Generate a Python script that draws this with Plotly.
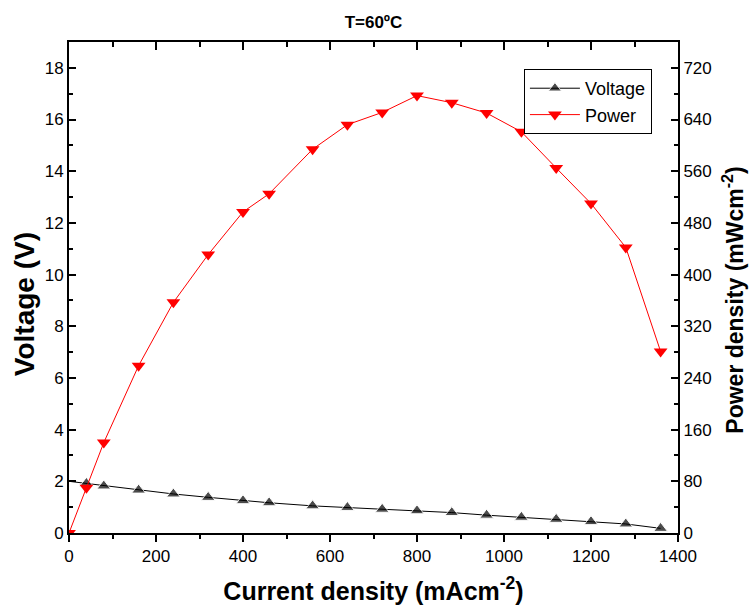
import plotly.graph_objects as go

# Current density (mA cm^-2)
current = [0, 40, 80, 160, 240, 320, 400, 460, 560, 640, 720, 800, 880, 960, 1040, 1120, 1200, 1280, 1360]
# Cell voltage (V)
voltage = [2.0, 1.92, 1.82, 1.66, 1.51, 1.38, 1.25, 1.17, 1.05, 0.99, 0.92, 0.86, 0.79, 0.69, 0.61, 0.53, 0.44, 0.35, 0.18]
# Power density (mW cm^-2)
power = [0, 70, 140, 259, 357, 431, 497, 525, 594, 632, 651, 677, 666, 650, 621, 565, 510, 442, 281]

FONT = "Liberation Sans, Arial, sans-serif"
MARKER = 12

# first voltage point drawn as line only
v_sizes = [0] + [MARKER] * (len(current) - 1)

fig = go.Figure()
fig.add_trace(go.Scatter(
    x=current, y=voltage, name="Voltage", mode="lines+markers",
    line=dict(color="black", width=1),
    marker=dict(symbol="triangle-up", size=v_sizes, color="black"),
    xaxis="x", yaxis="y",
))
fig.add_trace(go.Scatter(
    x=current, y=power, name="Power", mode="lines+markers",
    line=dict(color="#ff0000", width=1),
    marker=dict(symbol="triangle-down", size=MARKER, color="#ff0000"),
    xaxis="x", yaxis="y2",
))
# carrier for the top frame axis
fig.add_trace(go.Scatter(x=[None], y=[None], xaxis="x2", yaxis="y",
                         showlegend=False, hoverinfo="skip"))

axis_common = dict(showgrid=False, zeroline=False, showline=True, automargin=False,
                   linecolor="black", linewidth=2, tickcolor="black",
                   tickwidth=1.5, tickfont=dict(family=FONT, size=17, color="black"))

fig.update_layout(
    width=750, height=606,
    margin=dict(l=69, r=72, t=42, b=73),
    paper_bgcolor="white", plot_bgcolor="white",
    title=dict(text="<b>T=60ºC</b>", x=0.498, xanchor="center", y=0.963, yanchor="middle",
               font=dict(family=FONT, size=17, color="black")),
    xaxis=dict(range=[0, 1400], dtick=200, ticks="outside", ticklen=7,
               minor=dict(dtick=100, ticks="outside", ticklen=4, tickcolor="black", tickwidth=1.5),
               title=dict(text="<b>Current density (mAcm<sup>-2</sup>)</b>",
                          font=dict(family=FONT, size=25, color="black"), standoff=17),
               **axis_common),
    xaxis2=dict(range=[0, 1400], dtick=200, ticks="inside", ticklen=8, side="top",
                overlaying="x", anchor="y", showticklabels=False,
                minor=dict(dtick=100, ticks="inside", ticklen=5, tickcolor="black", tickwidth=1.5),
                **axis_common),
    yaxis=dict(range=[0, 19], dtick=2, ticks="inside", ticklen=7,
               minor=dict(dtick=1, ticks="inside", ticklen=4, tickcolor="black", tickwidth=1.5),
               **axis_common),
    yaxis2=dict(range=[0, 760], dtick=80, ticks="inside", ticklen=7, side="right",
                overlaying="y", anchor="x",
                minor=dict(dtick=40, ticks="inside", ticklen=4, tickcolor="black", tickwidth=1.5),
                **axis_common),
    legend=dict(x=0.747, y=0.945, xanchor="left", yanchor="top",
                bordercolor="black", borderwidth=1, bgcolor="white",
                font=dict(family=FONT, size=18, color="black"),
                tracegroupgap=0, itemwidth=50),
    showlegend=True,
    annotations=[
        dict(text="<b>Voltage (V)</b>", textangle=-90, showarrow=False,
             xref="paper", yref="paper", x=-0.074, y=0.466,
             xanchor="center", yanchor="middle",
             font=dict(family=FONT, size=28, color="black")),
        dict(text="<b>Power density (mWcm<sup>-2</sup>)</b>", textangle=-90, showarrow=False,
             xref="paper", yref="paper", x=1.091, y=0.474,
             xanchor="center", yanchor="middle",
             font=dict(family=FONT, size=23, color="black")),
    ],
)

fig.write_html("out.html")
